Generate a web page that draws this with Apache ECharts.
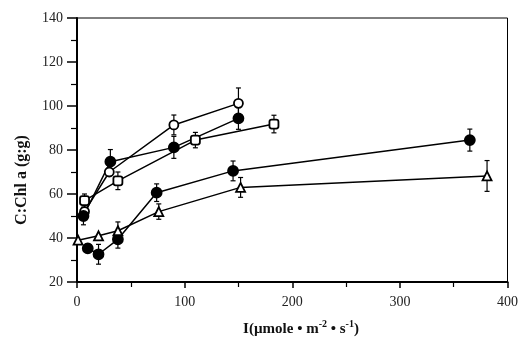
<!DOCTYPE html>
<html><head><meta charset="utf-8">
<script src="https://cdn.jsdelivr.net/npm/echarts@6/dist/echarts.min.js"></script>
<style>html,body{margin:0;padding:0;background:#fff}#c{width:521px;height:348px}</style>
</head><body><div id="c"></div>
<script>
// Data
const xTicks = [0, 100, 200, 300, 400];
const yTicks = [20, 40, 60, 80, 100, 120, 140];

const openCircleX = [7, 30, 90, 150];
const openCircleY = [52, 70, 91.4, 101.2];
const openCircleErr = [0, 0, 4.5, 7];

const filledUpperX = [6, 31, 90, 150];
const filledUpperY = [50, 74.7, 81.2, 94.4];
const filledUpperErr = [4, 5.5, 5, 5];

const openSquareX = [7, 38, 110, 183];
const openSquareY = [57, 66, 84.5, 91.8];
const openSquareErr = [3, 4, 3.5, 4];

const filledLowerX = [10, 20, 38, 74, 145, 365];
const filledLowerY = [35.3, 32.6, 39.4, 60.6, 70.5, 84.5];
const filledLowerErr = [0, 4.5, 4, 4, 4.5, 5];

const openTriX = [1, 20, 38, 76, 152, 381];
const openTriY = [39, 41, 43.3, 52, 63, 68.2];
const openTriErr = [0, 0, 4, 3.5, 4.5, 7];

const groups = [
  {x: openCircleX, y: openCircleY, e: openCircleErr, symbol: 'circle', size: 9, fill: '#fff'},
  {x: filledUpperX, y: filledUpperY, e: filledUpperErr, symbol: 'circle', size: 10, fill: '#000'},
  {x: openSquareX, y: openSquareY, e: openSquareErr, symbol: 'roundRect', size: 9, fill: '#fff'},
  {x: filledLowerX, y: filledLowerY, e: filledLowerErr, symbol: 'circle', size: 10, fill: '#000'},
  {x: openTriX, y: openTriY, e: openTriErr, symbol: 'triangle', size: 9, fill: '#fff'}
];

const chart = echarts.init(document.getElementById('c'));
const series = [];
groups.forEach(g => {
  const pts = g.x.map((v, i) => [v, g.y[i]]);
  const errs = g.x.map((v, i) => [v, g.y[i] - g.e[i], g.y[i] + g.e[i]]).filter((d, i) => g.e[i] > 0);
  series.push({
    type: 'custom', z: 2, silent: true,
    data: errs,
    renderItem: function (params, api) {
      const x = api.value(0);
      const lo = api.coord([x, api.value(1)]);
      const hi = api.coord([x, api.value(2)]);
      const w = 2.5;
      const st = {stroke: '#000', lineWidth: 1.2};
      return {type: 'group', children: [
        {type: 'line', shape: {x1: lo[0], y1: lo[1], x2: hi[0], y2: hi[1]}, style: st},
        {type: 'line', shape: {x1: lo[0] - w, y1: lo[1], x2: lo[0] + w, y2: lo[1]}, style: st},
        {type: 'line', shape: {x1: hi[0] - w, y1: hi[1], x2: hi[0] + w, y2: hi[1]}, style: st}
      ]};
    }
  });
  series.push({
    type: 'line', z: 3, data: pts, symbol: g.symbol, symbolSize: g.size,
    lineStyle: {color: '#000', width: 1.5},
    itemStyle: {color: g.fill, borderColor: '#000', borderWidth: 1.8},
    animation: false
  });
});

chart.setOption({
  animation: false,
  grid: {left: 77, right: 13, top: 18, bottom: 66, show: true, borderColor: '#000', borderWidth: 1},
  xAxis: {
    type: 'value', min: 0, max: 400, interval: 100,
    axisLine: {lineStyle: {color: '#000', width: 2}},
    axisTick: {length: 6, lineStyle: {color: '#000', width: 1.5}},
    minorTick: {show: true, splitNumber: 2, length: 5, lineStyle: {color: '#000', width: 1.2}},
    splitLine: {show: false},
    axisLabel: {margin: 13, fontFamily: 'Liberation Serif', fontSize: 14, color: '#222',
      formatter: v => xTicks.includes(v) ? String(v) : ''}
  },
  yAxis: {
    type: 'value', min: 20, max: 140, interval: 20,
    axisLine: {lineStyle: {color: '#000', width: 2}},
    axisTick: {length: 10, lineStyle: {color: '#000', width: 1.5}},
    minorTick: {show: true, splitNumber: 2, length: 6, lineStyle: {color: '#000', width: 1.2}},
    splitLine: {show: false},
    axisLabel: {margin: 14, fontFamily: 'Liberation Serif', fontSize: 14, color: '#222',
      formatter: v => yTicks.includes(v) ? String(v) : ''}
  },
  graphic: [
    {type: 'text', x: 22, y: 180, rotation: Math.PI / 2,
      style: {text: 'C:Chl a (g:g)', font: 'bold 16px "Liberation Serif"', fill: '#111',
        textAlign: 'center', textVerticalAlign: 'middle'}},
    {type: 'text', x: 301, y: 328,
      style: {text: '{n|I(µmole • m}{s|-2}{n| • s}{s|-1}{n|)}', textAlign: 'center', textVerticalAlign: 'middle',
        rich: {n: {font: 'bold 15px "Liberation Serif"', fill: '#111', verticalAlign: 'bottom', lineHeight: 18},
               s: {font: 'bold 10px "Liberation Serif"', fill: '#111', verticalAlign: 'top', lineHeight: 18}}}}
  ],
  series: series
});
</script></body></html>
